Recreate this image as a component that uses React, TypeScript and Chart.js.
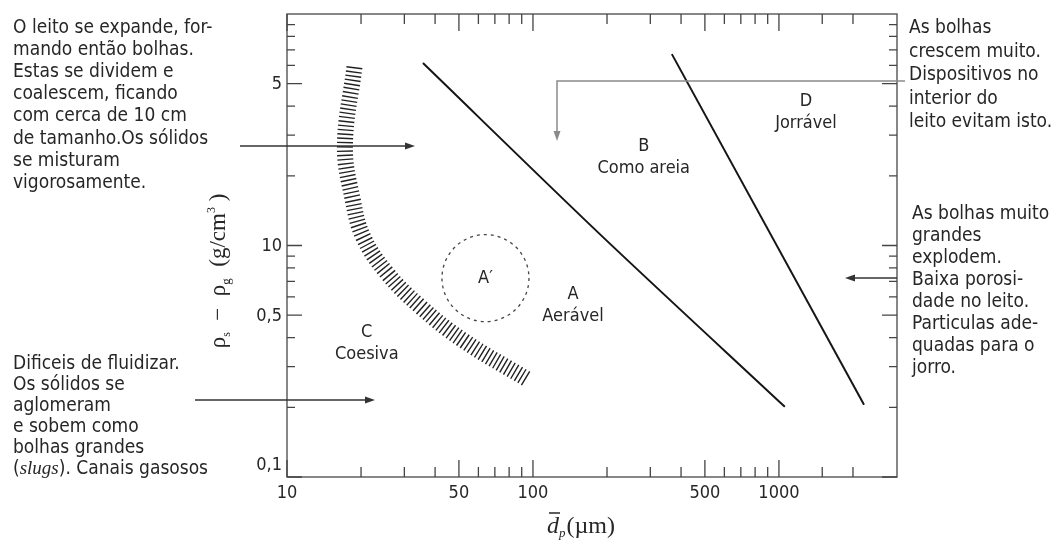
import React, { useEffect, useRef } from "react";
import { Chart, registerables } from "chart.js";

Chart.register(...registerables);

// ---- axis ranges & ticks ----
const xMin = 10;
const xMax = 3020;
const yMin = 0.1;
const yMax = 10;

const xMajorTicks = [10, 50, 100, 500, 1000];
const xTickLabels = ["10", "50", "100", "500", "1000"];
const xMinorTicks = [20, 30, 40, 60, 70, 80, 90, 200, 300, 400, 600, 700, 800, 900, 1500, 2000];
const yMajorTicks = [0.1, 0.5, 1, 5];
const yTickLabels = ["0,1", "0,5", "10", "5"];
const yMinorTicks = [0.2, 0.3, 0.4, 0.6, 0.7, 0.8, 0.9, 2, 3, 4, 6, 7, 8, 9];

// ---- boundaries (d_p in µm, Δρ in g/cm³) ----
const abBoundaryX = [35.7, 187, 1057];
const abBoundaryY = [6.14, 1.12, 0.201];
const bdBoundaryX = [367, 2218];
const bdBoundaryY = [6.71, 0.205];
const cBoundaryX = [18.8, 17.2, 18.5, 20.4, 25.5, 34.8, 51.9, 95.5];
const cBoundaryY = [5.9, 2.68, 1.58, 1.09, 0.76, 0.545, 0.39, 0.263];

// A' zone
const aPrimeX = 64.1;
const aPrimeY = 0.723;

// region labels (letter, name, position)
const regionLetters = ["B", "D", "A", "C"];
const regionNames = ["Como areia", "Jorrável", "Aerável", "Coesiva"];
const regionX = [282, 1288, 145.5, 21.1];
const regionY = [2.68, 4.2, 0.614, 0.42];

// side notes
const noteTopLeft = [
  "O leito se expande, for-",
  "mando então bolhas.",
  "Estas se dividem e",
  "coalescem, ficando",
  "com cerca de 10 cm",
  "de tamanho.Os sólidos",
  "se misturam",
  "vigorosamente.",
];
const noteBottomLeft = [
  "Dificeis de fluidizar.",
  "Os sólidos se",
  "aglomeram",
  "e sobem como",
  "bolhas grandes",
];
const noteTopRight = [
  "As bolhas",
  "crescem muito.",
  "Dispositivos no",
  "interior do",
  "leito evitam isto.",
];
const noteBottomRight = [
  "As bolhas muito",
  "grandes",
  "explodem.",
  "Baixa porosi-",
  "dade no leito.",
  "Particulas ade-",
  "quadas para o",
  "jorro.",
];

const SANS = '"DejaVu Sans Condensed", "DejaVu Sans", sans-serif';
const SERIF = '"Liberation Serif", "DejaVu Serif", serif';
const TEXT = "#262626";

function toPts(xs: number[], ys: number[]) {
  return xs.map((x, i) => ({ x, y: ys[i] }));
}

function drawArrow(ctx: CanvasRenderingContext2D, pts: number[][], color: string, width = 1.3) {
  const n = pts.length;
  const [x1, y1] = pts[n - 2];
  const [x2, y2] = pts[n - 1];
  const a = Math.atan2(y2 - y1, x2 - x1);
  const L = 10;
  const W = 3.5;
  ctx.save();
  ctx.strokeStyle = color;
  ctx.fillStyle = color;
  ctx.lineWidth = width;
  ctx.beginPath();
  ctx.moveTo(pts[0][0], pts[0][1]);
  for (let i = 1; i < n - 1; i++) ctx.lineTo(pts[i][0], pts[i][1]);
  ctx.lineTo(x2 - (L - 2) * Math.cos(a), y2 - (L - 2) * Math.sin(a));
  ctx.stroke();
  ctx.beginPath();
  ctx.moveTo(x2, y2);
  ctx.lineTo(x2 - L * Math.cos(a) + W * Math.sin(a), y2 - L * Math.sin(a) - W * Math.cos(a));
  ctx.lineTo(x2 - L * Math.cos(a) - W * Math.sin(a), y2 - L * Math.sin(a) + W * Math.cos(a));
  ctx.closePath();
  ctx.fill();
  ctx.restore();
}

function drawLines(ctx: CanvasRenderingContext2D, lines: string[], x: number, y0: number, dy: number) {
  lines.forEach((l, i) => ctx.fillText(l, x, y0 + i * dy));
}

const geldartPlugin = {
  id: "geldart",
  beforeDatasetsDraw(chart: any) {
    const { ctx, chartArea: a, scales } = chart;
    const xs = scales.x;
    const ys = scales.y;
    ctx.save();
    // frame
    ctx.strokeStyle = "#555";
    ctx.lineWidth = 1.4;
    ctx.strokeRect(a.left, a.top, a.right - a.left, a.bottom - a.top);
    // ticks
    ctx.lineWidth = 1.3;
    ctx.strokeStyle = "#444";
    const xt = (v: number, len: number) => {
      const p = xs.getPixelForValue(v);
      ctx.beginPath();
      ctx.moveTo(p, a.bottom);
      ctx.lineTo(p, a.bottom - len);
      ctx.moveTo(p, a.top);
      ctx.lineTo(p, a.top + len);
      ctx.stroke();
    };
    const yt = (v: number, len: number) => {
      const p = ys.getPixelForValue(v);
      ctx.beginPath();
      ctx.moveTo(a.left, p);
      ctx.lineTo(a.left + len, p);
      ctx.moveTo(a.right, p);
      ctx.lineTo(a.right - len, p);
      ctx.stroke();
    };
    xMajorTicks.forEach((v) => xt(v, 17));
    xMinorTicks.forEach((v) => xt(v, 10));
    yMajorTicks.forEach((v) => yt(v, 15));
    yMinorTicks.forEach((v) => yt(v, 8));

    // tick labels
    ctx.fillStyle = TEXT;
    ctx.font = `18px ${SANS}`;
    ctx.textAlign = "center";
    ctx.textBaseline = "middle";
    xMajorTicks.forEach((v, i) => ctx.fillText(xTickLabels[i], xs.getPixelForValue(v), a.bottom + 16));
    ctx.textAlign = "right";
    yMajorTicks.forEach((v, i) => {
      const p = ys.getPixelForValue(v);
      ctx.fillText(yTickLabels[i], a.left - 5, i === 0 ? p - 12 : p + 1);
    });

    // A' dashed circle
    ctx.setLineDash([3, 4]);
    ctx.lineWidth = 1.3;
    ctx.strokeStyle = "#444";
    ctx.beginPath();
    ctx.arc(xs.getPixelForValue(aPrimeX), ys.getPixelForValue(aPrimeY), 43.5, 0, Math.PI * 2);
    ctx.stroke();
    ctx.setLineDash([]);
    ctx.restore();
  },
  afterDraw(chart: any) {
    const { ctx, scales } = chart;
    const xs = scales.x;
    const ys = scales.y;
    ctx.save();
    ctx.fillStyle = TEXT;

    // region labels
    ctx.font = `18px ${SANS}`;
    ctx.textAlign = "center";
    ctx.textBaseline = "middle";
    regionLetters.forEach((t, i) => {
      const px = xs.getPixelForValue(regionX[i]);
      const py = ys.getPixelForValue(regionY[i]);
      ctx.fillText(t, px, py);
      ctx.fillText(regionNames[i], px, py + 22);
    });
    ctx.fillText("A′", xs.getPixelForValue(aPrimeX), ys.getPixelForValue(aPrimeY));

    // side notes
    ctx.font = `19px ${SANS}`;
    ctx.textAlign = "left";
    ctx.textBaseline = "alphabetic";
    drawLines(ctx, noteTopLeft, 13, 33, 22.1);
    drawLines(ctx, noteBottomLeft, 13, 369, 21);
    {
      let x = 13;
      const y = 369 + 5 * 21;
      ctx.font = `19px ${SANS}`;
      ctx.fillText("(", x, y);
      x += ctx.measureText("(").width;
      ctx.font = `italic 19px ${SERIF}`;
      ctx.fillText("slugs", x, y);
      x += ctx.measureText("slugs").width;
      ctx.font = `19px ${SANS}`;
      ctx.fillText("). Canais gasosos", x, y);
    }
    drawLines(ctx, noteTopRight, 909, 33, 23.5);
    drawLines(ctx, noteBottomRight, 912, 219, 22);

    // arrows
    drawArrow(ctx, [[240, 146], [415, 146]], "#333");
    drawArrow(ctx, [[195, 400], [375, 400]], "#333");
    drawArrow(ctx, [[905, 81], [557, 81], [557, 141]], "#8a8a8a", 1.5);
    drawArrow(ctx, [[897, 278], [845, 278]], "#333");

    // y axis title (rotated)
    ctx.save();
    ctx.translate(225, 271);
    ctx.rotate(-Math.PI / 2);
    const segs: [string, number, number][] = [
      ["ρ", 23, 0],
      ["s", 12, 5],
      ["  −  ", 23, 0],
      ["ρ", 23, 0],
      ["g", 13, 5],
      ["  (g/cm", 23, 0],
      ["3", 12, -10],
      [" )", 23, 0],
    ];
    let total = 0;
    segs.forEach(([t, s]) => {
      ctx.font = `${s}px ${SERIF}`;
      total += ctx.measureText(t).width;
    });
    let x = -total / 2;
    segs.forEach(([t, s, dy]) => {
      ctx.font = `${s}px ${SERIF}`;
      ctx.fillText(t, x, dy);
      x += ctx.measureText(t).width;
    });
    ctx.restore();

    // x axis title
    {
      let x0 = 547;
      const y = 533;
      ctx.font = `italic 24px ${SERIF}`;
      ctx.fillText("d", x0, y);
      const dw = ctx.measureText("d").width;
      ctx.strokeStyle = TEXT;
      ctx.lineWidth = 1.5;
      ctx.beginPath();
      ctx.moveTo(x0 + 2, y - 20);
      ctx.lineTo(x0 + dw + 1, y - 20);
      ctx.stroke();
      x0 += dw;
      ctx.font = `italic 13px ${SERIF}`;
      ctx.fillText("p", x0, y + 4);
      x0 += ctx.measureText("p").width + 1;
      ctx.font = `24px ${SERIF}`;
      ctx.fillText("(µm)", x0, y);
    }
    ctx.restore();
  },
};

export default function App() {
  const ref = useRef<HTMLCanvasElement>(null);
  useEffect(() => {
    const canvas = ref.current;
    if (!canvas) return;
    const chart = new Chart(canvas, {
      type: "scatter",
      data: {
        datasets: [
          {
            label: "A/B",
            data: toPts(abBoundaryX, abBoundaryY),
            showLine: true,
            borderColor: "#151515",
            borderWidth: 2,
            pointRadius: 0,
            tension: 0.3,
          },
          {
            label: "B/D",
            data: toPts(bdBoundaryX, bdBoundaryY),
            showLine: true,
            borderColor: "#151515",
            borderWidth: 2,
            pointRadius: 0,
          },
          {
            label: "C/A",
            data: toPts(cBoundaryX, cBoundaryY),
            showLine: true,
            borderColor: "#222",
            borderWidth: 16,
            borderDash: [1.4, 2.8],
            borderCapStyle: "butt",
            pointRadius: 0,
            tension: 0.4,
          },
        ],
      },
      options: {
        animation: false,
        responsive: false,
        events: [],
        layout: { padding: { left: 287, right: 161, top: 14, bottom: 64 } },
        plugins: { legend: { display: false }, tooltip: { enabled: false } },
        scales: {
          x: { type: "logarithmic", min: xMin, max: xMax, display: false },
          y: { type: "logarithmic", min: yMin, max: yMax, display: false },
        },
      },
      plugins: [geldartPlugin],
    } as any);
    return () => chart.destroy();
  }, []);
  return (
    <div style={{ position: "fixed", left: 0, top: 0, width: 1058, height: 541, background: "#fff" }}>
      <canvas ref={ref} width={1058} height={541} style={{ display: "block" }} />
    </div>
  );
}
